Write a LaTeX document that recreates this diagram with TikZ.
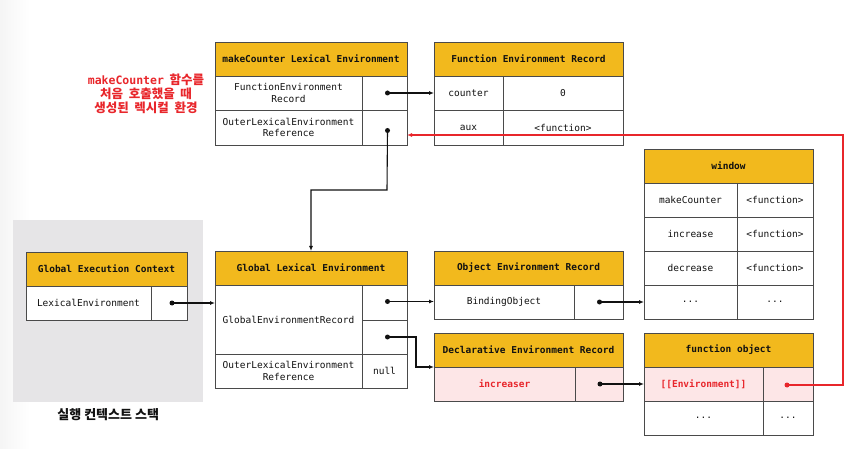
\documentclass[tikz,border=0pt]{standalone}
\usepackage{fontspec}
\setmonofont{DejaVu Sans Mono}
\newfontfamily\kofont{Noto Sans CJK KR}
\usepackage{tikz}
\usetikzlibrary{arrows.meta,positioning,calc}
\definecolor{Ink}{HTML}{111111}
\definecolor{Edge}{HTML}{4A4A4A}
\definecolor{Yellow}{HTML}{F2B91D}
\definecolor{Pink}{HTML}{FDE6E7}
\definecolor{Red}{HTML}{E8262B}
\definecolor{Stack}{HTML}{E6E5E7}
\newcommand{\gap}{\hspace{0.45em}}
\tikzset{
  head/.style={draw=Edge,fill=Yellow,line width=0.8pt,minimum height=34pt,inner sep=0pt,outer sep=0pt,anchor=north west,font=\fontsize{9.5}{11.5}\selectfont\ttfamily\bfseries,text=Ink},
  cell/.style={draw=Edge,fill=white,line width=0.6pt,minimum height=34pt,inner sep=0pt,outer sep=0pt,anchor=north west,align=center,font=\fontsize{9.5}{11.5}\selectfont\ttfamily,text=Ink},
  hot/.style={cell,fill=Pink,text=Red,font=\fontsize{9.5}{11.5}\selectfont\ttfamily\bfseries},
  dot/.style={circle,fill=Ink,inner sep=0pt,minimum size=5pt},
  reddot/.style={dot,fill=Red},
  ptr/.style={-{Latex[length=5pt,width=4pt]},line width=1.1pt,draw=Ink},
  redptr/.style={-{Latex[length=5pt,width=4pt]},line width=1.1pt,draw=Red}
}

\begin{document}
\begin{tikzpicture}[x=1pt,y=-1pt]
  \useasboundingbox (0,0) rectangle (865,449);
  \shade[left color=black!4,right color=white] (0,0) rectangle (30,449);

  % execution context stack
  \node[fill=Stack,minimum width=190pt,minimum height=182pt,inner sep=0pt,anchor=north west] (stack) at (13,220) {};
  \node[below=3pt of stack,font=\fontsize{13}{15}\selectfont\kofont\bfseries,text=Ink] (stacklbl) {실행 컨텍스트 스택};

  \node[head,minimum width=161pt] (gech) at (26,252) {Global Execution Context};
  \node[cell,minimum width=125pt] (geck) at (gech.south west) {LexicalEnvironment};
  \node[cell,minimum width=36pt] (gecv) at (geck.north east) {};

  % note
  \node[align=center,text=Red,font=\fontsize{12.5}{14}\selectfont\kofont\bfseries] (note) at (146,94)
    {{\ttfamily\fontsize{11.5}{14}\selectfont makeCounter}\gap 함수를\\처음\gap 호출했을\gap 때\\생성된\gap 렉시컬\gap 환경};

  % makeCounter lexical environment
  \node[head,minimum width=192pt] (mch) at (215,42) {makeCounter Lexical Environment};
  \node[cell,minimum width=147pt] (mck1) at (mch.south west) {FunctionEnvironment\\Record};
  \node[cell,minimum width=45pt] (mcv1) at (mck1.north east) {};
  \node[cell,minimum width=147pt,minimum height=35pt] (mck2) at (mck1.south west) {OuterLexicalEnvironment\\Reference};
  \node[cell,minimum width=45pt,minimum height=35pt] (mcv2) at (mck2.north east) {};

  \node[head,minimum width=189pt] (ferh) at (434,42) {Function Environment Record};
  \node[cell,minimum width=69pt] (ferk1) at (ferh.south west) {counter};
  \node[cell,minimum width=120pt] (ferv1) at (ferk1.north east) {0};
  \node[cell,minimum width=69pt,minimum height=35pt] (ferk2) at (ferk1.south west) {aux};
  \node[cell,minimum width=120pt,minimum height=35pt] (ferv2) at (ferk2.north east) {<function>};

  % global lexical environment
  \node[head,minimum width=192pt] (gleh) at (215,251) {Global Lexical Environment};
  \node[cell,minimum width=147pt,minimum height=69pt] (glek1) at (gleh.south west) {GlobalEnvironmentRecord};
  \node[cell,minimum width=45pt,minimum height=35pt] (glev1) at (glek1.north east) {};
  \node[cell,minimum width=45pt] (glev2) at (glev1.south west) {};
  \node[cell,minimum width=147pt] (glek2) at (glek1.south west) {OuterLexicalEnvironment\\Reference};
  \node[cell,minimum width=45pt] (glev3) at (glek2.north east) {null};

  \node[head,minimum width=189pt] (oerh) at (434,251) {Object Environment Record};
  \node[cell,minimum width=140pt] (oerk) at (oerh.south west) {BindingObject};
  \node[cell,minimum width=49pt] (oerv) at (oerk.north east) {};

  \node[head,minimum width=189pt] (derh) at (434,333) {Declarative Environment Record};
  \node[hot,minimum width=141pt] (derk) at (derh.south west) {increaser};
  \node[hot,minimum width=48pt] (derv) at (derk.north east) {};

  % window
  \node[head,minimum width=169pt] (winh) at (644,149) {window};
  \node[cell,minimum width=93pt] (wink1) at (winh.south west) {makeCounter};
  \node[cell,minimum width=76pt] (winv1) at (wink1.north east) {<function>};
  \node[cell,minimum width=93pt] (wink2) at (wink1.south west) {increase};
  \node[cell,minimum width=76pt] (winv2) at (wink2.north east) {<function>};
  \node[cell,minimum width=93pt] (wink3) at (wink2.south west) {decrease};
  \node[cell,minimum width=76pt] (winv3) at (wink3.north east) {<function>};
  \node[cell,minimum width=93pt] (wink4) at (wink3.south west) {...};
  \node[cell,minimum width=76pt] (winv4) at (wink4.north east) {...};

  \node[head,minimum width=169pt] (foh) at (644,333) {function object};
  \node[hot,minimum width=119pt] (fok1) at (foh.south west) {[[Environment]]};
  \node[hot,minimum width=50pt] (fov1) at (fok1.north east) {};
  \node[cell,minimum width=119pt] (fok2) at (fok1.south west) {...};
  \node[cell,minimum width=50pt] (fov2) at (fok2.north east) {...};

  % pointers
  \node[dot] (p0) at ($(gecv.center)+(3,0)$) {};
  \node[dot] (p1) at ($(mcv1.center)+(3,0)$) {};
  \node[dot] (p2) at ($(mcv2.center)+(3,3)$) {};
  \node[dot] (p3) at ($(glev1.center)+(3,-1)$) {};
  \node[dot] (p4) at ($(glev2.center)+(3,0)$) {};
  \node[dot] (p5) at ($(oerv.center)+(1,0)$) {};
  \node[dot] (p6) at ($(derv.center)+(1,0)$) {};
  \node[reddot] (p7) at ($(fov1.center)+(-1,1)$) {};
  \coordinate (bendA) at (387,190);
  \coordinate (bendB) at (416,337);
  \coordinate (bendC) at (843,135);

  \draw[ptr] (p0.center) -- (p0 -| glek1.west);
  \draw[ptr] (p1.center) -- (p1 -| ferk1.west);
  \draw[ptr] (p2.center) -- (bendA) -| (gleh.north);
  \draw[ptr] (p3.center) -- (p3 -| oerk.west);
  \draw[ptr] (p4.center) -- (bendB) |- (derh.south west);
  \draw[ptr] (p5.center) -- (p5 -| wink4.west);
  \draw[ptr] (p6.center) -- (p6 -| fok1.west);
  \draw[redptr] (p7.center) -| (bendC) -- (bendC -| mcv2.east);
\end{tikzpicture}
\end{document}
